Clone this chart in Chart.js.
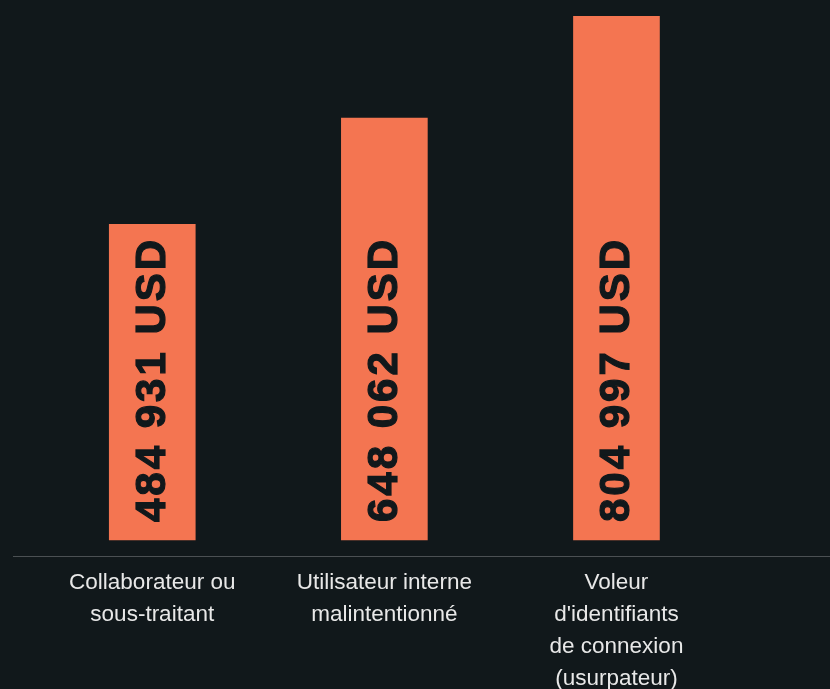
<!DOCTYPE html>
<html>
<head>
<meta charset="utf-8">
<script src="https://cdn.jsdelivr.net/npm/chart.js@4.4.1/dist/chart.umd.min.js"></script>
<style>
html,body{margin:0;padding:0;background:#11181b;}
#wrap{width:830px;height:689px;position:relative;}
</style>
</head>
<body>
<div id="wrap"><canvas id="c"></canvas></div>
<script>
const categories = [
  ["Collaborateur ou", "sous-traitant"],
  ["Utilisateur interne", "malintentionné"],
  ["Voleur", "d'identifiants", "de connexion", "(usurpateur)"]
];
const positions = [0, 1, 2];
const values = [484931, 648062, 804997];
const valueLabels = ["484 931 USD", "648 062 USD", "804 997 USD"];

const barLabelPlugin = {
  id: 'barLabels',
  afterDatasetsDraw(chart) {
    const ctx = chart.ctx;
    const meta = chart.getDatasetMeta(0);
    ctx.save();
    ctx.fillStyle = '#11181b';
    ctx.font = 'bold 42px "Liberation Sans", Arial, sans-serif';
    try { ctx.letterSpacing = '3px'; } catch (e) {}
    ctx.textAlign = 'left';
    ctx.textBaseline = 'middle';
    meta.data.forEach((bar, i) => {
      ctx.save();
      ctx.translate(bar.x + 1, bar.base - 18);
      ctx.rotate(-Math.PI / 2);
      ctx.strokeStyle = '#11181b';
      ctx.lineWidth = 1.2;
      ctx.fillText(valueLabels[i], 0, 0);
      ctx.strokeText(valueLabels[i], 0, 0);
      ctx.restore();
    });
    ctx.restore();
  }
};

new Chart(document.getElementById('c'), {
  type: 'bar',
  data: {
    datasets: [{
      data: positions.map((p, i) => ({ x: p, y: values[i] })),
      backgroundColor: '#f47551',
      borderWidth: 0,
      barThickness: 86
    }]
  },
  options: {
    responsive: true,
    maintainAspectRatio: false,
    animation: false,
    layout: { padding: { left: 13, right: 0, top: 16, bottom: 0 } },
    plugins: { legend: { display: false }, tooltip: { enabled: false } },
    scales: {
      x: {
        type: 'linear',
        min: -0.6,
        max: 2.92,
        offset: false,
        grid: { display: false, drawTicks: false },
        border: { display: true, color: '#4b5053', width: 1 },
        afterBuildTicks(scale) { scale.ticks = positions.map(v => ({ value: v })); },
        afterFit(scale) { scale.height = 133; },
        ticks: {
          autoSkip: false,
          maxRotation: 0,
          padding: 11,
          color: '#e8e8e8',
          font: { family: '"Liberation Sans", Arial, sans-serif', size: 22.5, lineHeight: 1.42 },
          callback: (v) => categories[v] || ''
        }
      },
      y: {
        display: false,
        min: -24580,
        max: 804997,
        grid: { display: false }
      }
    }
  },
  plugins: [barLabelPlugin]
});
</script>
</body>
</html>
